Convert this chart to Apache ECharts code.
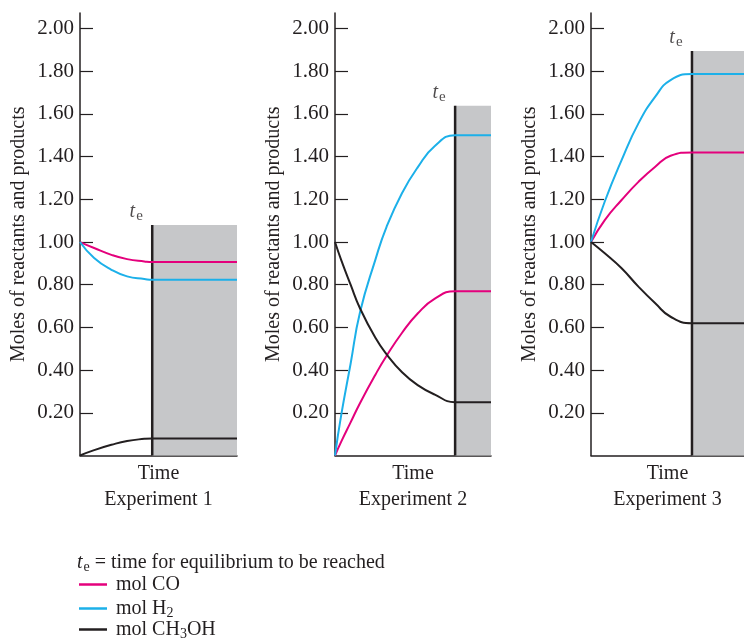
<!DOCTYPE html>
<html>
<head>
<meta charset="utf-8">
<script src="https://cdn.jsdelivr.net/npm/echarts@6/dist/echarts.min.js"></script>
<style>
  html, body { margin: 0; padding: 0; background: #fff; }
  #chart { width: 744px; height: 639px; }
</style>
</head>
<body>
<div id="chart"></div>
<script>
// y-axis ticks shared by the three panels
const yTicks = [0.2, 0.4, 0.6, 0.8, 1.0, 1.2, 1.4, 1.6, 1.8, 2.0];

// time runs 0..100 in every panel, te is where equilibrium is reached
const teTimes = [46, 77, 66];
const shadeTops = [1.08, 1.638, 1.895];

// sampled times (0 .. te) for the curved part of each panel
const curveTimes1 = [0, 9, 20, 30, 41, 46];
const curveTimes2 = [0, 4, 10, 16, 26, 33, 43, 53, 64, 77];
const curveTimes3 = [0, 9, 20, 31, 42, 52, 66];

// Experiment 1
const co1 = [1.00, 0.972, 0.94, 0.92, 0.909, 0.906];
const h21 = [1.00, 0.925, 0.87, 0.839, 0.827, 0.823];
const meoh1 = [0.00, 0.025, 0.05, 0.068, 0.078, 0.08];

// Experiment 2
const co2 = [0.00, 0.065, 0.155, 0.245, 0.38, 0.466, 0.575, 0.665, 0.735, 0.77];
const h22 = [0.00, 0.19, 0.43, 0.67, 0.92, 1.07, 1.23, 1.35, 1.45, 1.50];
const meoh2 = [1.00, 0.915, 0.80, 0.69, 0.55, 0.475, 0.39, 0.33, 0.285, 0.25];

// Experiment 3
const co3 = [1.00, 1.103, 1.197, 1.282, 1.353, 1.404, 1.42];
const h23 = [1.00, 1.19, 1.384, 1.556, 1.681, 1.759, 1.787];
const meoh3 = [1.00, 0.947, 0.877, 0.791, 0.713, 0.65, 0.62];

const names = ['mol CO', 'mol H2', 'mol CH3OH'];
const colors = ['#e4007c', '#1cb0e9', '#231f20'];

const serif = 'Liberation Serif';
const ink = '#231f20';

const grids = [
  { left: 80, width: 157, top: 13, height: 442.5 },
  { left: 335, width: 156, top: 13, height: 442.5 },
  { left: 591, width: 153, top: 13, height: 442.5 }
];

function pairs(ts, vs) {
  return ts.map((t, i) => [t, vs[i]]);
}

const panels = [
  { times: curveTimes1, lines: [co1, h21, meoh1] },
  { times: curveTimes2, lines: [co2, h22, meoh2] },
  { times: curveTimes3, lines: [co3, h23, meoh3] }
];

const xAxes = [];
const yAxes = [];
const series = [];

panels.forEach((p, k) => {
  xAxes.push({
    gridIndex: k,
    type: 'value',
    min: 0,
    max: 100,
    axisLine: { show: true, lineStyle: { color: ink, width: 1.5 } },
    axisTick: { show: false },
    axisLabel: { show: false },
    splitLine: { show: false },
    name: '{t|Time}\n{e|Experiment ' + (k + 1) + '}',
    nameLocation: 'middle',
    nameGap: 5,
    nameTextStyle: {
      verticalAlign: 'top',
      rich: {
        t: { fontFamily: serif, fontSize: 20, color: ink, lineHeight: 26 },
        e: { fontFamily: serif, fontSize: 20, color: ink, lineHeight: 26 }
      }
    }
  });
  yAxes.push({
    gridIndex: k,
    type: 'value',
    min: 0,
    max: 2.073,
    interval: 0.2,
    axisLine: { show: true, lineStyle: { color: ink, width: 1.5 } },
    axisTick: {
      show: true, inside: true, length: 13,
      lineStyle: { color: ink, width: 1.2 },
      customValues: yTicks
    },
    axisLabel: {
      customValues: yTicks,
      formatter: v => v.toFixed(2),
      fontFamily: serif, fontSize: 21, color: ink, margin: 6
    },
    splitLine: { show: false },
    name: 'Moles of reactants and products',
    nameLocation: 'middle',
    nameGap: 51,
    nameTextStyle: { fontFamily: serif, fontSize: 20, color: ink }
  });

  const te = teTimes[k];
  // shaded equilibrium region
  series.push({
    type: 'line',
    xAxisIndex: k, yAxisIndex: k,
    data: [],
    silent: true,
    markArea: {
      silent: true,
      itemStyle: { color: '#c6c7c9' },
      data: [[{ coord: [te, 0] }, { coord: [100, shadeTops[k]] }]]
    },
    z: 1
  });
  // te marker line
  series.push({
    type: 'line',
    xAxisIndex: k, yAxisIndex: k,
    data: [[te, 0], [te, shadeTops[k]]],
    symbol: 'none',
    lineStyle: { color: ink, width: 2.5 },
    silent: true,
    z: 3
  });
  // te label
  series.push({
    type: 'scatter',
    xAxisIndex: k, yAxisIndex: k,
    data: [[te, shadeTops[k]]],
    symbolSize: 0,
    silent: true,
    label: {
      show: true,
      position: 'top',
      offset: [-16, 4],
      formatter: '{t|t}{s|e}',
      rich: {
        t: { fontFamily: serif, fontStyle: 'italic', fontSize: 20, color: ink },
        s: { fontFamily: serif, fontSize: 15, color: ink, padding: [10, 0, 0, 1] }
      }
    }
  });

  p.lines.forEach((vals, j) => {
    const last = vals[vals.length - 1];
    series.push({
      name: names[j],
      type: 'line',
      xAxisIndex: k, yAxisIndex: k,
      data: pairs(p.times, vals).concat([[100, last]]),
      smooth: 0.5,
      symbol: 'none',
      lineStyle: { color: colors[j], width: 2 },
      itemStyle: { color: colors[j] },
      z: 4
    });
  });
});

// one legend block per species so the column never wraps
const legendTops = [574.5, 596.5, 617.5];
const legends = names.map((nm, i) => ({
  data: [nm],
  orient: 'vertical',
  left: 79,
  top: legendTops[i],
  padding: 0,
  icon: 'rect',
  itemWidth: 28,
  itemHeight: 2.5,
  selectedMode: false,
  textStyle: {
    fontFamily: serif, fontSize: 20, color: ink,
    padding: [0, 0, 0, 4],
    rich: {
      n: { fontFamily: serif, fontSize: 20, color: ink, lineHeight: 21 },
      s: { fontFamily: serif, fontSize: 14, color: ink, padding: [10, 0, 0, 0], lineHeight: 21 }
    }
  },
  formatter: name => {
    if (name === 'mol H2') return '{n|mol H}{s|2}';
    if (name === 'mol CH3OH') return '{n|mol CH}{s|3}{n|OH}';
    return '{n|' + name + '}';
  }
}));

const chart = echarts.init(document.getElementById('chart'), null, { renderer: 'canvas' });
chart.setOption({
  backgroundColor: '#ffffff',
  animation: false,
  grid: grids,
  xAxis: xAxes,
  yAxis: yAxes,
  series: series,
  legend: legends,
  graphic: [{
    type: 'text',
    left: 77,
    top: 551,
    style: {
      text: '{t|t}{s|e}{n| = time for equilibrium to be reached}',
      rich: {
        t: { fontFamily: serif, fontStyle: 'italic', fontSize: 20, fill: ink, lineHeight: 22 },
        s: { fontFamily: serif, fontSize: 14, fill: ink, padding: [9, 0, 0, 1], lineHeight: 22 },
        n: { fontFamily: serif, fontSize: 20, fill: ink, lineHeight: 22 }
      }
    }
  }]
});
</script>
</body>
</html>
